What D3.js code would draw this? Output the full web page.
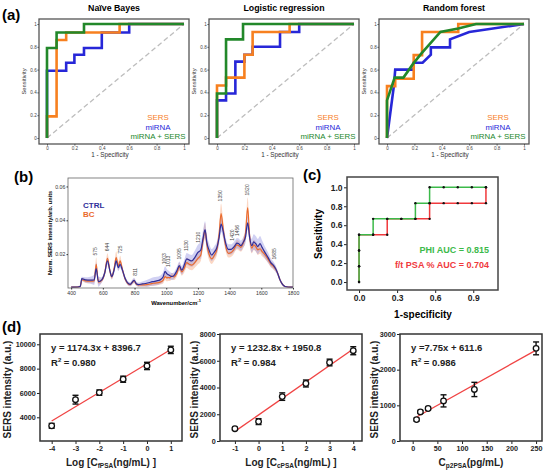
<!DOCTYPE html>
<html>
<head>
<meta charset="utf-8">
<script src="https://cdn.jsdelivr.net/npm/d3@7"></script>
<style>
  body { margin: 0; background: #fff; }
  svg { display: block; }
  text { font-family: "Liberation Sans", Arial, sans-serif; }
</style>
</head>
<body>
<svg id="fig" width="550" height="471"></svg>
<script>
// ---------- (a) ROC curves, [1 - specificity, sensitivity] ----------
var rocTitles = ['Naïve Bayes', 'Logistic regression', 'Random forest'];
var rocNames = ['SERS', 'miRNA', 'miRNA + SERS'];
var nbSers = [[0,0],[0,0.19],[0.07,0.19],[0.07,0.86],[0.14,0.86],[0.14,0.925],[0.53,0.925],[0.53,1],[1,1]];
var nbMirna = [[0,0],[0,0.59],[0.14,0.59],[0.14,0.66],[0.2,0.66],[0.2,0.73],[0.27,0.73],[0.27,0.79],[0.4,0.79],[0.4,0.925],[0.6,0.925],[0.6,1],[1,1]];
var nbBoth = [[0,0],[0,0.79],[0.07,0.79],[0.07,0.925],[0.27,0.925],[0.27,1],[1,1]];
var lrSers = [[0,0],[0,0.46],[0.066,0.46],[0.066,0.53],[0.2,0.53],[0.2,0.73],[0.26,0.73],[0.26,0.93],[0.53,0.93],[0.53,1],[1,1]];
var lrMirna = [[0,0],[0,0.33],[0.066,0.33],[0.066,0.39],[0.134,0.39],[0.134,0.67],[0.2,0.67],[0.2,0.73],[0.26,0.73],[0.26,0.8],[0.46,0.8],[0.46,0.93],[0.6,0.93],[0.6,1],[1,1]];
var lrBoth = [[0,0],[0,0.39],[0.066,0.39],[0.066,0.865],[0.19,0.865],[0.19,1],[1,1]];
var rfSers = [[0,0],[0,0.455],[0.06,0.455],[0.06,0.52],[0.195,0.52],[0.195,0.727],[0.256,0.727],[0.256,0.93],[0.52,0.93],[0.52,1],[1,1]];
var rfMirna = [[0,0],[0.05,0.455],[0.06,0.6],[0.195,0.6],[0.195,0.66],[0.26,0.66],[0.32,0.73],[0.32,0.795],[0.46,0.795],[0.46,0.865],[0.6,0.93],[1,1]];
var rfBoth = [[0,0],[0,0.33],[0.056,0.53],[0.12,0.53],[0.19,0.65],[0.25,0.74],[0.39,0.93],[0.52,0.96],[0.65,1],[1,1]];
var rocTicks = [0, 0.2, 0.4, 0.6, 0.8, 1];

// ---------- (b) mean SERS spectra with standard deviation ----------
var wavenumbers = [400,440,458,467,490,520,545,558,572,593,612,629,645,656,672,684,698,709,722,740,772,797,812,824,850,877,900,919,940,961,980,993,1003,1014,1024,1035,1050,1066,1083,1098,1115,1129,1145,1161,1180,1200,1218,1232,1245,1256,1270,1287,1305,1320,1334,1346,1358,1371,1392,1410,1423,1437,1446,1458,1470,1486,1500,1514,1526,1540,1552,1565,1578,1592,1605,1620,1644,1660,1676,1690,1704,1718,1735,1750,1770,1800];
var ctrlMean = [.0005,.0006,.0010,.0055,.0048,.0046,.0048,.0115,.0038,.0048,.0090,.0160,.0100,.0068,.0110,.0160,.0120,.0140,.0110,.0058,.0022,.0045,.0025,.0020,.0024,.0028,.0034,.0038,.0042,.0048,.0065,.0098,.0085,.0078,.0072,.0068,.0075,.0100,.0132,.0105,.0140,.0172,.0165,.0160,.0180,.0210,.0225,.0290,.0345,.0270,.0225,.0195,.0215,.0240,.0300,.0378,.0340,.0280,.0228,.0228,.0238,.0255,.0265,.0262,.0250,.0270,.0300,.0385,.0300,.0250,.0272,.0262,.0245,.0262,.0240,.0215,.0178,.0150,.0135,.0115,.0085,.0048,.0020,.0009,.0006,.0005];
var bcMean = [.0005,.0006,.0009,.0050,.0042,.0040,.0042,.0140,.0035,.0045,.0090,.0175,.0100,.0065,.0120,.0180,.0130,.0160,.0115,.0055,.0020,.0042,.0022,.0018,.0018,.0020,.0024,.0028,.0030,.0035,.0045,.0068,.0060,.0062,.0060,.0070,.0065,.0085,.0125,.0095,.0120,.0150,.0140,.0135,.0150,.0175,.0195,.0280,.0340,.0260,.0200,.0172,.0195,.0230,.0320,.0440,.0360,.0270,.0205,.0210,.0222,.0245,.0255,.0250,.0240,.0265,.0320,.0475,.0310,.0235,.0255,.0245,.0225,.0232,.0215,.0200,.0168,.0142,.0128,.0112,.0085,.0048,.0020,.0009,.0006,.0005];
var ctrlSd = [.0003,.0004,.0008,.0012,.0015,.0020,.0030,.0035,.0030,.0015,.0020,.0022,.0018,.0015,.0020,.0025,.0020,.0022,.0018,.0015,.0012,.0015,.0012,.0012,.0015,.0020,.0022,.0025,.0025,.0025,.0028,.0030,.0028,.0025,.0022,.0020,.0020,.0022,.0025,.0025,.0030,.0035,.0035,.0035,.0040,.0045,.0050,.0050,.0050,.0045,.0040,.0035,.0035,.0035,.0040,.0045,.0040,.0035,.0030,.0030,.0030,.0030,.0030,.0030,.0030,.0030,.0035,.0040,.0040,.0040,.0045,.0045,.0045,.0045,.0040,.0035,.0030,.0025,.0022,.0020,.0015,.0012,.0008,.0005,.0003,.0003];
var bcSd = [.0003,.0004,.0008,.0010,.0012,.0012,.0015,.0040,.0015,.0012,.0018,.0030,.0018,.0015,.0022,.0035,.0025,.0030,.0020,.0012,.0010,.0012,.0010,.0010,.0010,.0012,.0012,.0014,.0015,.0015,.0018,.0020,.0020,.0020,.0018,.0018,.0018,.0020,.0025,.0022,.0025,.0030,.0030,.0030,.0030,.0035,.0035,.0040,.0045,.0040,.0035,.0030,.0030,.0035,.0045,.0060,.0050,.0035,.0025,.0025,.0025,.0025,.0028,.0028,.0025,.0030,.0040,.0060,.0045,.0030,.0030,.0030,.0030,.0030,.0028,.0025,.0022,.0020,.0018,.0015,.0012,.0010,.0008,.0005,.0003,.0003];
var peakLabels = ['575','644','725','811','1003','1013','1095','1130','1210','1350','1420','1456','1520','1685'];
var peakAt = [551, 625, 709, 804, 986, 1014, 1083, 1125, 1203, 1340, 1419, 1445, 1514, 1682];
var spectrumTicksX = [400, 600, 800, 1000, 1200, 1400, 1600, 1800];
var spectrumTicksY = [0.02, 0.04, 0.06];

// ---------- (c) ROC of PHI and f/t PSA % ----------
var phiFpr = [0,0,0,0,0.111,0.111,0.222,0.333,0.444,0.444,0.556,0.556,0.667,0.778,0.889,1];
var phiTpr = [0,0.167,0.333,0.5,0.5,0.667,0.667,0.667,0.667,0.833,0.833,1,1,1,1,1];
var ftFpr = [0,0,0,0,0.111,0.222,0.222,0.333,0.444,0.556,0.556,0.667,0.778,0.889,1,1];
var ftTpr = [0,0.167,0.333,0.5,0.5,0.5,0.667,0.667,0.667,0.667,0.833,0.833,0.833,0.833,0.833,1];
var aucLabels = ['PHI AUC = 0.815', 'f/t PSA % AUC = 0.704'];

// ---------- (d) calibration curves ----------
var fpsaLogC = [-4, -3, -2, -1, 0, 1];
var fpsaSers = [3300, 5450, 6030, 7130, 8220, 9540];
var fpsaErr = [200, 360, 220, 250, 300, 300];
var cpsaLogC = [-1, 0, 1, 2, 3, 4];
var cpsaSers = [920, 1450, 3320, 4300, 5870, 6750];
var cpsaErr = [90, 220, 280, 260, 250, 300];
var p2psaC = [7.8, 15.6, 31.25, 62.5, 125, 250];
var p2psaSers = [600, 816, 911, 1125, 1445, 2597];
var p2psaErr = [40, 40, 40, 170, 200, 180];
var fitSlopes = [1174.3, 1232.8, 7.75];
var fitIntercepts = [8396.7, 1950.8, 611.6];
var fitR2 = ['0.980', '0.984', '0.986'];

var svg = d3.select('#fig');
var plain = function (d) { return String(d); };

function styleAxis(g, size, weight, color) {
  g.select('.domain').remove();
  g.selectAll('line').attr('stroke', color).attr('stroke-width', 1);
  g.selectAll('text')
    .attr('font-size', size)
    .attr('font-weight', weight)
    .attr('fill', color)
    .attr('font-family', null);
}

function box(g, x0, y0, x1, y1, color, width) {
  g.append('rect')
    .attr('x', x0).attr('y', y0)
    .attr('width', x1 - x0).attr('height', y1 - y0)
    .attr('fill', 'none').attr('stroke', color).attr('stroke-width', width);
}

function panelLabel(text, x, y) {
  svg.append('text').attr('x', x).attr('y', y)
    .attr('font-size', 15).attr('font-weight', 'bold').text(text);
}

// ---------- panel (a) ----------
panelLabel('(a)', 2, 20);
var rocSets = [[nbMirna, nbSers, nbBoth], [lrMirna, lrSers, lrBoth], [rfMirna, rfSers, rfBoth]];
var rocColor = {'SERS': '#f7801f', 'miRNA': '#2727d8', 'miRNA + SERS': '#22882a'};
var drawOrder = ['miRNA', 'SERS', 'miRNA + SERS'];

rocSets.forEach(function (curves, i) {
  var left = 39 + 170 * i, right = left + 150, top = 19, bottom = 144;
  var g = svg.append('g');
  var x = d3.scaleLinear().domain([0, 1]).range([left + 8, left + 145]);
  var y = d3.scaleLinear().domain([0, 1]).range([138, 24]);

  g.append('g').attr('transform', 'translate(0,' + bottom + ')')
    .call(d3.axisBottom(x).tickValues(rocTicks).tickFormat(plain).tickSize(1.5).tickPadding(0.8))
    .call(styleAxis, 4.6, 'normal', '#444');
  g.append('g').attr('transform', 'translate(' + left + ',0)')
    .call(d3.axisLeft(y).tickValues(rocTicks).tickFormat(plain).tickSize(1.5).tickPadding(0.8))
    .call(styleAxis, 4.6, 'normal', '#444');

  g.append('line')
    .attr('x1', x(0)).attr('y1', y(0)).attr('x2', x(1)).attr('y2', y(1))
    .attr('stroke', '#bdbdbd').attr('stroke-width', 1.3).attr('stroke-dasharray', '5,3');

  var line = d3.line().x(function (d) { return x(d[0]); }).y(function (d) { return y(d[1]); });
  curves.forEach(function (c, k) {
    g.append('path').attr('d', line(c))
      .attr('fill', 'none')
      .attr('stroke', rocColor[drawOrder[k]])
      .attr('stroke-width', 2.6)
      .attr('stroke-linejoin', 'miter');
  });

  box(g, left, top, right, bottom, '#555', 1.3);

  g.append('text').attr('x', left + 75).attr('y', 11)
    .attr('text-anchor', 'middle').attr('font-size', 8.8).attr('font-weight', 'bold')
    .text(rocTitles[i]);
  g.append('text')
    .attr('transform', 'translate(' + (left - 13.5) + ',' + ((top + bottom) / 2) + ') rotate(-90)')
    .attr('text-anchor', 'middle').attr('font-size', 5.8).attr('fill', '#333')
    .text('Sensitivity');
  g.append('text').attr('x', left + 71).attr('y', 157)
    .attr('text-anchor', 'middle').attr('font-size', 6.3).attr('fill', '#333')
    .text('1 - Specificity');

  rocNames.forEach(function (name, k) {
    g.append('text').attr('x', right - 31).attr('y', bottom - 24 + k * 9.5)
      .attr('text-anchor', 'middle').attr('font-size', 7.9).attr('font-weight', 500)
      .attr('fill', rocColor[name]).text(name);
  });
});

// ---------- panel (b) ----------
panelLabel('(b)', 14, 182);
(function () {
  var g = svg.append('g');
  var x = d3.scaleLinear().domain([380, 1800]).range([68, 293]);
  var y = d3.scaleLinear().domain([0, 0.065]).range([288, 178]);
  var pts = wavenumbers.map(function (w, i) {
    return {w: w, c: ctrlMean[i], b: bcMean[i], cs: ctrlSd[i], bs: bcSd[i]};
  });

  g.append('clipPath').attr('id', 'specClip')
    .append('rect').attr('x', 68).attr('y', 178).attr('width', 225).attr('height', 110);
  var plot = g.append('g').attr('clip-path', 'url(#specClip)');

  var bandB = d3.area().curve(d3.curveMonotoneX)
    .x(function (d) { return x(d.w); })
    .y0(function (d) { return y(d.b - d.bs); })
    .y1(function (d) { return y(d.b + d.bs); });
  var bandC = d3.area().curve(d3.curveMonotoneX)
    .x(function (d) { return x(d.w); })
    .y0(function (d) { return y(d.c - d.cs); })
    .y1(function (d) { return y(d.c + d.cs); });
  var lineB = d3.line().curve(d3.curveMonotoneX)
    .x(function (d) { return x(d.w); }).y(function (d) { return y(d.b); });
  var lineC = d3.line().curve(d3.curveMonotoneX)
    .x(function (d) { return x(d.w); }).y(function (d) { return y(d.c); });

  plot.append('path').attr('d', bandB(pts)).attr('fill', '#f6a77c').attr('opacity', 0.45);
  plot.append('path').attr('d', bandC(pts)).attr('fill', '#8c8ce0').attr('opacity', 0.4);
  plot.append('path').attr('d', lineB(pts)).attr('fill', 'none').attr('stroke', '#ea6a2c').attr('stroke-width', 1.2);
  plot.append('path').attr('d', lineC(pts)).attr('fill', 'none').attr('stroke', '#2e2e9a').attr('stroke-width', 1.2);

  box(g, 68, 178, 293, 288, '#666', 0.8);

  g.append('g').attr('transform', 'translate(0,288)')
    .call(d3.axisBottom(x).tickValues(spectrumTicksX).tickFormat(plain).tickSize(1.5).tickPadding(1.5))
    .call(styleAxis, 5.2, 'normal', '#333');
  g.append('g').attr('transform', 'translate(68,0)')
    .call(d3.axisLeft(y).tickValues(spectrumTicksY).tickFormat(d3.format('.2f')).tickSize(1.5).tickPadding(1.2))
    .call(styleAxis, 5.2, 'normal', '#333');

  g.append('text')
    .attr('transform', 'translate(52,233) rotate(-90)')
    .attr('text-anchor', 'middle').attr('font-size', 5.6).attr('font-weight', 'bold')
    .text('Norm. SERS intensity/arb. units');
  var xt = g.append('text').attr('x', 176).attr('y', 304.5)
    .attr('text-anchor', 'middle').attr('font-size', 5.8).attr('font-weight', 'bold')
    .text('Wavenumber/cm');
  xt.append('tspan').attr('dy', -2.2).attr('font-size', 4).text('-1');

  g.append('text').attr('x', 83).attr('y', 208).attr('font-size', 8)
    .attr('font-weight', 'bold').attr('fill', '#2e2e9a').text('CTRL');
  g.append('text').attr('x', 83).attr('y', 216.5).attr('font-size', 8)
    .attr('font-weight', 'bold').attr('fill', '#ea6a2c').text('BC');

  // peak labels sit just above the upper band edge near their wavenumber
  var upper = pts.map(function (d) { return Math.max(d.c + d.cs, d.b + d.bs); });
  peakLabels.forEach(function (t, i) {
    var w = peakAt[i];
    var top = 0;
    pts.forEach(function (d, k) { if (Math.abs(d.w - w) <= 12) top = Math.max(top, upper[k]); });
    if (top === 0) {
      var k = d3.bisector(function (d) { return d.w; }).left(pts, w);
      top = Math.max(upper[k - 1], upper[k]);
    }
    g.append('text')
      .attr('transform', 'translate(' + (x(w) + 1.8) + ',' + (y(top) - 2) + ') rotate(-90)')
      .attr('font-size', 5).attr('fill', '#444').text(t);
  });
})();

// ---------- panel (c) ----------
panelLabel('(c)', 303, 180);
(function () {
  var g = svg.append('g');
  var x = d3.scaleLinear().domain([-0.095, 1.095]).range([347, 498]);
  var y = d3.scaleLinear().domain([-0.084, 1.109]).range([290, 177]);

  g.append('g').attr('transform', 'translate(0,290)')
    .call(d3.axisBottom(x).tickValues([0, 0.3, 0.6, 0.9]).tickFormat(d3.format('.1f')).tickSize(3).tickPadding(2))
    .call(styleAxis, 8.5, 'bold', '#222');
  g.append('g').attr('transform', 'translate(347,0)')
    .call(d3.axisLeft(y).tickValues([0, 0.2, 0.4, 0.6, 0.8, 1]).tickFormat(d3.format('.1f')).tickSize(3).tickPadding(1.5))
    .call(styleAxis, 8.5, 'bold', '#222');

  var line = d3.line().x(function (d) { return x(d[0]); }).y(function (d) { return y(d[1]); });
  var ft = ftFpr.map(function (f, i) { return [f, ftTpr[i]]; });
  var phi = phiFpr.map(function (f, i) { return [f, phiTpr[i]]; });
  g.append('path').attr('d', line(ft)).attr('fill', 'none').attr('stroke', '#f0393c').attr('stroke-width', 1.5);
  g.append('path').attr('d', line(phi)).attr('fill', 'none').attr('stroke', '#3cba4a').attr('stroke-width', 1.5);
  g.selectAll('.dot').data(ft.concat(phi)).enter().append('circle')
    .attr('cx', function (d) { return x(d[0]); })
    .attr('cy', function (d) { return y(d[1]); })
    .attr('r', 1.2).attr('fill', '#111');

  box(g, 347, 177, 498, 290, '#444', 1.5);

  g.append('text').attr('x', 489).attr('y', 252.5).attr('text-anchor', 'end')
    .attr('font-size', 9).attr('font-weight', 'bold').attr('fill', '#3cba4a').text(aucLabels[0]);
  g.append('text').attr('x', 489).attr('y', 267.5).attr('text-anchor', 'end')
    .attr('font-size', 9).attr('font-weight', 'bold').attr('fill', '#f0393c').text(aucLabels[1]);

  g.append('text').attr('transform', 'translate(322,234) rotate(-90)')
    .attr('text-anchor', 'middle').attr('font-size', 10).attr('font-weight', 'bold')
    .text('Sensitivity');
  g.append('text').attr('x', 423).attr('y', 317.5)
    .attr('text-anchor', 'middle').attr('font-size', 10).attr('font-weight', 'bold')
    .text('1-specificity');
})();

// ---------- panel (d) ----------
panelLabel('(d)', 2, 332);
var calib = [
  {xs: fpsaLogC, ys: fpsaSers, es: fpsaErr, left: 40, right: 182, xd: [-4.49, 1.47], yd: [2053, 10846],
   xt: [-4, -3, -2, -1, 0, 1], yt: [4000, 6000, 8000, 10000], yOff: 29,
   title: [['Log [C', 0], ['fPSA', 1], ['(ng/mL) ]', 0]], eq: 'y = 1174.3x + 8396.7'},
  {xs: cpsaLogC, ys: cpsaSers, es: cpsaErr, left: 220, right: 362, xd: [-1.63, 4.37], yd: [0, 8000],
   xt: [-1, 0, 1, 2, 3, 4], yt: [0, 2000, 4000, 6000, 8000], yOff: 22,
   title: [['Log [C', 0], ['cPSA', 1], ['(ng/mL) ]', 0]], eq: 'y = 1232.8x + 1950.8'},
  {xs: p2psaC, ys: p2psaSers, es: p2psaErr, left: 400, right: 542, xd: [-25.7, 262], yd: [0, 3000],
   xt: [0, 50, 100, 150, 200, 250], yt: [0, 1000, 2000, 3000], yOff: 22,
   title: [['C', 0], ['p2PSA', 1], ['(pg/mL)', 0]], eq: 'y =7.75x + 611.6'}
];

calib.forEach(function (p, i) {
  var top = 334, bottom = 441;
  var g = svg.append('g');
  var x = d3.scaleLinear().domain(p.xd).range([p.left, p.right]);
  var y = d3.scaleLinear().domain(p.yd).range([bottom, top]);

  g.append('g').attr('transform', 'translate(0,' + bottom + ')')
    .call(d3.axisBottom(x).tickValues(p.xt).tickFormat(plain).tickSize(3).tickPadding(1.5))
    .call(styleAxis, 7.2, 'bold', '#222');
  g.append('g').attr('transform', 'translate(' + p.left + ',0)')
    .call(d3.axisLeft(y).tickValues(p.yt).tickFormat(plain).tickSize(3).tickPadding(1.2))
    .call(styleAxis, 7.2, 'bold', '#222');

  var x0 = d3.min(p.xs), x1 = d3.max(p.xs);
  g.append('line')
    .attr('x1', x(x0)).attr('y1', y(fitSlopes[i] * x0 + fitIntercepts[i]))
    .attr('x2', x(x1)).attr('y2', y(fitSlopes[i] * x1 + fitIntercepts[i]))
    .attr('stroke', '#f04444').attr('stroke-width', 1.3);

  var pts = p.xs.map(function (v, k) { return {x: v, y: p.ys[k], e: p.es[k]}; });
  var eb = g.selectAll('.eb' + i).data(pts).enter().append('g');
  eb.append('line')
    .attr('x1', function (d) { return x(d.x); }).attr('x2', function (d) { return x(d.x); })
    .attr('y1', function (d) { return y(d.y - d.e); }).attr('y2', function (d) { return y(d.y + d.e); })
    .attr('stroke', '#111').attr('stroke-width', 1.4);
  [-1, 1].forEach(function (s) {
    eb.append('line')
      .attr('x1', function (d) { return x(d.x) - 3; }).attr('x2', function (d) { return x(d.x) + 3; })
      .attr('y1', function (d) { return y(d.y + s * d.e); }).attr('y2', function (d) { return y(d.y + s * d.e); })
      .attr('stroke', '#111').attr('stroke-width', 1.4);
  });
  eb.append('circle')
    .attr('cx', function (d) { return x(d.x); }).attr('cy', function (d) { return y(d.y); })
    .attr('r', 2.8).attr('fill', '#fff').attr('stroke', '#111').attr('stroke-width', 1.3);

  box(g, p.left, top, p.right, bottom, '#333', 1.5);

  g.append('text').attr('x', p.left + 11).attr('y', 350.5)
    .attr('font-size', 9.5).attr('font-weight', 'bold').attr('fill', '#222').text(p.eq);
  var r2 = g.append('text').attr('x', p.left + 11).attr('y', 365.5)
    .attr('font-size', 9.5).attr('font-weight', 'bold').attr('fill', '#222').text('R');
  r2.append('tspan').attr('dy', -4).attr('font-size', 6).text('2');
  r2.append('tspan').attr('dy', 4).text(' = ' + fitR2[i]);

  g.append('text')
    .attr('transform', 'translate(' + (p.left - p.yOff) + ',' + ((top + bottom) / 2 + 2) + ') rotate(-90)')
    .attr('text-anchor', 'middle').attr('font-size', 10).attr('font-weight', 'bold').attr('fill', '#222')
    .text('SERS intensity (a.u.)');
  var xt = g.append('text').attr('x', (p.left + p.right) / 2).attr('y', 465.5)
    .attr('text-anchor', 'middle').attr('font-size', 10).attr('font-weight', 'bold').attr('fill', '#222');
  p.title.forEach(function (part) {
    xt.append('tspan')
      .attr('font-size', part[1] ? 6.5 : 10)
      .attr('dy', part[1] ? 2.2 : (part[0] === p.title[0][0] ? 0 : -2.2))
      .text(part[0]);
  });
});
</script>
</body>
</html>
